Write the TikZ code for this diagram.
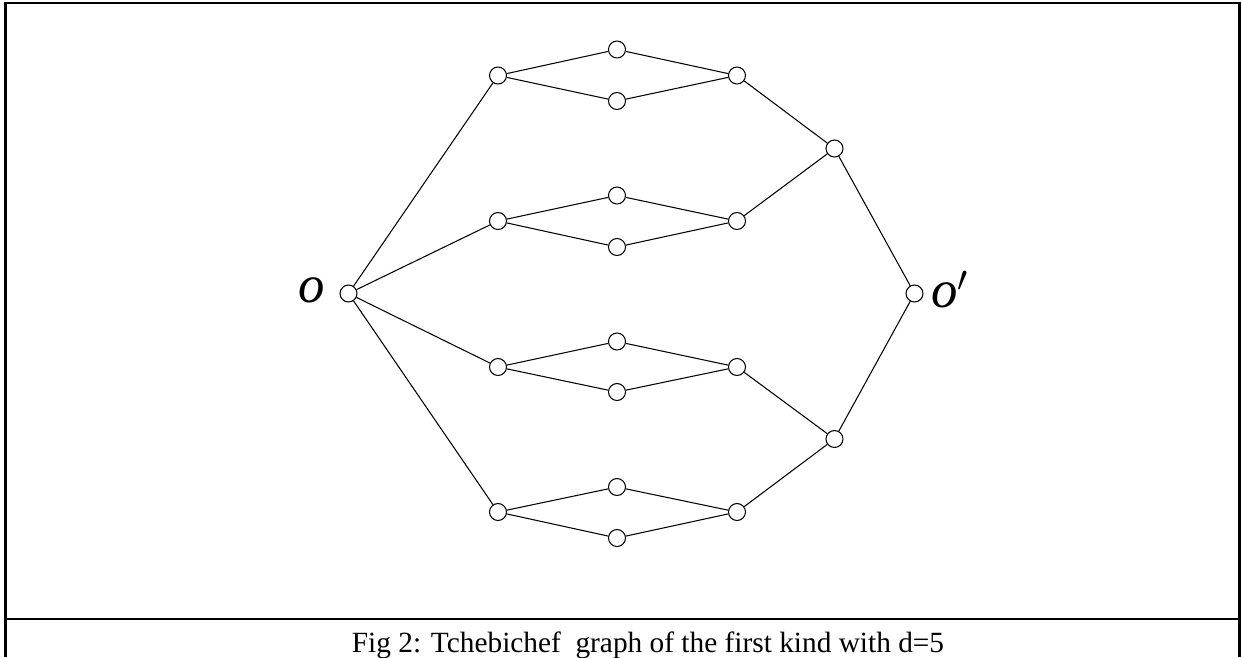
\documentclass[tikz,border=0pt]{standalone}
\usepackage{fontspec}
\setmainfont{Liberation Serif}
\def\r{0.17cm}
\tikzset{
	vertex/.style={
		circle,
		draw=black,
		line width=0.6pt,
		minimum size=2*\r,
		inner sep=0pt,
	},
	edge/.style={line width=0.6pt},
	frame/.style={line width=1.4pt},
	endlabel/.style={font=\fontsize{30}{33}\selectfont\itshape},
	caption/.style={font=\fontsize{16.7}{19}\selectfont, anchor=base},
}

\begin{document}
\begin{tikzpicture}[x=0.02cm, y=-0.02cm]
\useasboundingbox (0,0) rectangle (1242,657);
%frame and caption row
\draw[frame] (5.5,657) -- (5.5,3) -- (1239.5,3) -- (1239.5,657);
\draw[frame] (5.5,619) -- (1239.5,619);
\node[caption] (cap) at (648,652) {Fig 2: Tchebichef\ \ graph of the first kind with d=5};

%end vertices
\node[vertex] (o) at (348.5,293.5) {};
\node[vertex] (op) at (914.5,293.5) {};
\node[endlabel] (lo) at (312,290) {o};
\node[endlabel] (lop) at (950,290) {o$'$};

\node[vertex] (a1) at (498,75.5) {};
\node[vertex] (a2) at (498,221) {};
\node[vertex] (a3) at (498,367) {};
\node[vertex] (a4) at (498,512) {};

\node[vertex] (b1) at (617,49.5) {};
\node[vertex] (b2) at (617,101) {};
\node[vertex] (b3) at (617,195.5) {};
\node[vertex] (b4) at (617,247) {};
\node[vertex] (b5) at (617,341.5) {};
\node[vertex] (b6) at (617,392) {};
\node[vertex] (b7) at (617,487) {};
\node[vertex] (b8) at (617,538) {};

\node[vertex] (c1) at (737,75.5) {};
\node[vertex] (c2) at (737,221) {};
\node[vertex] (c3) at (737,367) {};
\node[vertex] (c4) at (737,512) {};

\node[vertex] (d1) at (834.5,148.5) {};
\node[vertex] (d2) at (834.5,439) {};

%edges
\draw[edge] (o) -- (a1);
\draw[edge] (o) -- (a2);
\draw[edge] (o) -- (a3);
\draw[edge] (o) -- (a4);

\draw[edge] (a1) -- (b1) -- (c1);
\draw[edge] (a1) -- (b2) -- (c1);
\draw[edge] (a2) -- (b3) -- (c2);
\draw[edge] (a2) -- (b4) -- (c2);
\draw[edge] (a3) -- (b5) -- (c3);
\draw[edge] (a3) -- (b6) -- (c3);
\draw[edge] (a4) -- (b7) -- (c4);
\draw[edge] (a4) -- (b8) -- (c4);

\draw[edge] (c1) -- (d1);
\draw[edge] (c2) -- (d1);
\draw[edge] (c3) -- (d2);
\draw[edge] (c4) -- (d2);

\draw[edge] (d1) -- (op);
\draw[edge] (d2) -- (op);
\end{tikzpicture}
\end{document}
